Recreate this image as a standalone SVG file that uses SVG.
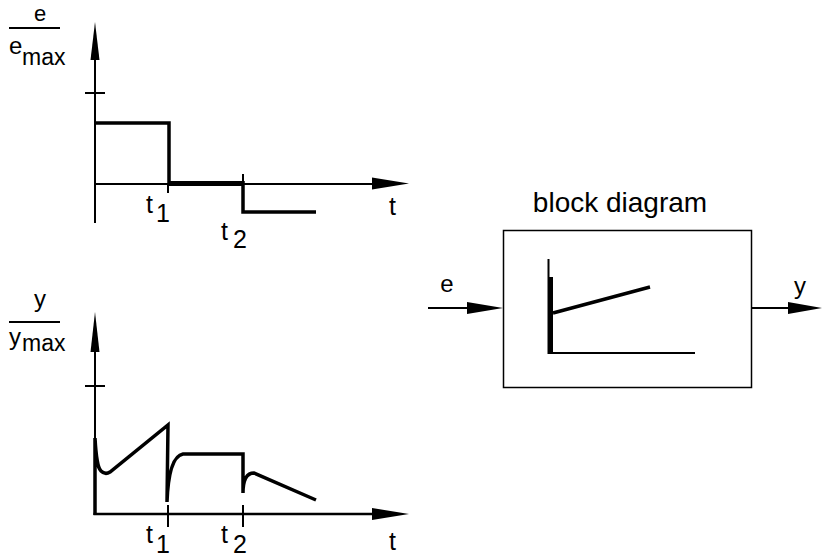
<svg xmlns="http://www.w3.org/2000/svg" width="822" height="557" viewBox="0 0 822 557">
<style>
.ax{stroke:#000;stroke-width:2;fill:none}
.cv{stroke:#000;stroke-width:3.5;fill:none;stroke-linejoin:miter}
.ah{fill:#000;stroke:none}
text{font-family:"Liberation Sans",Arial,sans-serif;fill:#000}
.lb{font-size:24px}
.sb{font-size:23px}
.tl{font-size:25px}
</style>
<rect width="822" height="557" fill="#fff"/>
<g id="plot-e">
<line class="ax" x1="95" y1="223" x2="95" y2="50"/>
<polygon class="ah" points="95,22 99.5,60 90.5,60"/>
<line class="ax" x1="85" y1="93" x2="105" y2="93"/>
<line class="ax" x1="95" y1="184" x2="380" y2="184"/>
<polygon class="ah" points="409,183.5 372,177.5 372,189.5"/>
<line class="ax" x1="168" y1="184" x2="168" y2="193"/>
<line class="ax" x1="243" y1="174" x2="243" y2="184"/>
<path class="cv" d="M95,123 L169,123 L169,183.5"/>
<line x1="169" y1="183.5" x2="243" y2="183.5" stroke="#000" stroke-width="5"/>
<path class="cv" d="M243,181 L243,212 L316,212"/>
<text x="40" y="21" font-size="22" text-anchor="middle">e</text>
<line x1="9" y1="28" x2="60" y2="28" stroke="#000" stroke-width="2"/>
<text class="lb" x="9" y="54">e</text>
<text class="sb" x="22" y="65">max</text>
<text class="tl" x="146" y="213">t</text>
<text class="tl" x="156" y="222">1</text>
<text class="tl" x="221" y="240">t</text>
<text class="tl" x="233" y="248">2</text>
<text class="tl" x="389" y="215">t</text>
</g>
<g id="plot-y">
<line class="ax" x1="95" y1="515" x2="95" y2="340"/>
<polygon class="ah" points="95,312 99.5,352 90.5,352"/>
<line class="ax" x1="85" y1="386" x2="105" y2="386"/>
<line x1="93.5" y1="514" x2="380" y2="514" stroke="#000" stroke-width="2.5"/>
<polygon class="ah" points="409,514 372,508 372,520"/>
<line class="ax" x1="168" y1="505" x2="168" y2="527"/>
<line class="ax" x1="243" y1="505" x2="243" y2="527"/>
<path class="cv" d="M95,515 L95,438 C96,456 97,467 101,471 C104,474 107,474 110,472 L168,425 L167,502 C168,476 172,456 183,454 L243,454 L243,493 C243,480 246,473 254,473 L316,500"/>
<text class="lb" x="40" y="307" text-anchor="middle">y</text>
<line x1="9" y1="322" x2="60" y2="322" stroke="#000" stroke-width="2"/>
<text class="lb" x="9" y="345">y</text>
<text class="sb" x="22" y="351">max</text>
<text class="tl" x="146" y="543">t</text>
<text class="tl" x="156" y="553">1</text>
<text class="tl" x="221" y="543">t</text>
<text class="tl" x="233" y="553">2</text>
<text class="tl" x="389" y="550">t</text>
</g>
<g id="block">
<rect x="503.5" y="230.5" width="248" height="157" fill="none" stroke="#000" stroke-width="1.5"/>
<text x="620" y="212" font-size="28" text-anchor="middle">block diagram</text>
<line x1="548.5" y1="259" x2="548.5" y2="354" stroke="#000" stroke-width="2"/>
<rect x="548" y="277" width="5" height="77" fill="#000"/>
<line x1="548" y1="353" x2="695" y2="353" stroke="#000" stroke-width="2"/>
<line x1="553" y1="313" x2="650" y2="287" stroke="#000" stroke-width="3.5"/>
</g>
<g id="connectors">
<line x1="428" y1="308" x2="480" y2="308" stroke="#000" stroke-width="2"/>
<polygon class="ah" points="503,308 467,302 467,314"/>
<text class="lb" x="447" y="292" text-anchor="middle">e</text>
<line x1="751" y1="308" x2="800" y2="308" stroke="#000" stroke-width="2"/>
<polygon class="ah" points="822,308 788,302 788,314"/>
<text class="lb" x="800" y="294" text-anchor="middle">y</text>
</g>
</svg>
